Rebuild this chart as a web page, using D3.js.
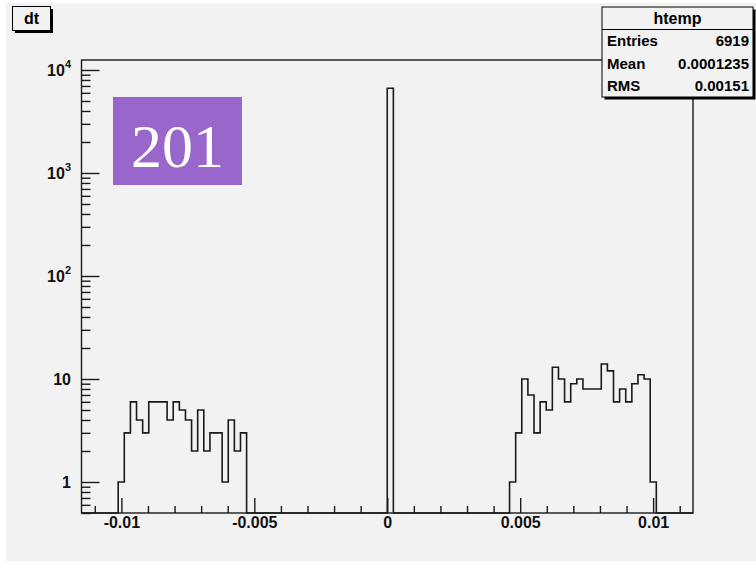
<!DOCTYPE html>
<html>
<head>
<meta charset="utf-8">
<script src="https://cdn.jsdelivr.net/npm/d3@7"></script>
<style>
  body { margin: 0; background: #ffffff; }
  svg { display: block; }
  text { font-family: "Liberation Sans", Arial, sans-serif; font-weight: bold; }
</style>
</head>
<body>
<div id="svganchor"></div>
<script>
// histogram definition (dt, 100 bins)
const nBins = 100;
const xMin = -0.0115, xMax = 0.0115;

// bin contents
const leftStart = 6;
const leftCounts = [1, 3, 6, 4, 3, 6, 6, 6, 4, 6, 5, 4, 2, 5, 2, 3, 3, 1, 4, 2, 3];
const peakBin = 50;
const peakCount = 6656;
const rightStart = 70;
const rightCounts = [1, 3, 10, 7, 3, 6, 5, 13, 10, 6, 9, 10, 8, 8, 8, 14, 12, 6, 8, 6, 9, 11, 10, 1];

// axis labels
const xMajorTicks = [-0.01, -0.005, 0, 0.005, 0.01];
const xTickLabels = ["-0.01", "-0.005", "0", "0.005", "0.01"];
const yDecades = [1, 10, 100, 1000, 10000];
const yTickLabels = [["1", ""], ["10", ""], ["10", "2"], ["10", "3"], ["10", "4"]];

// stats box
const statsTitle = "htemp";
const statsRows = [["Entries", "6919"], ["Mean", "0.0001235"], ["RMS", "0.00151"]];

const W = 756, H = 565;
const frame = { left: 81.5, right: 693, top: 60, bottom: 513 };

const svg = d3.select("#svganchor").append("svg")
  .attr("width", W).attr("height", H);

// canvas
svg.append("rect").attr("x", 6).attr("y", 3).attr("width", W - 6).attr("height", 558)
  .attr("fill", "#f2f2f2");

const x = d3.scaleLinear().domain([xMin, xMax]).range([frame.left, frame.right]);
const y = d3.scaleLog().domain([0.5, 12500]).range([frame.bottom, frame.top]);

// fill the counts
const counts = new Array(nBins).fill(0);
leftCounts.forEach((c, i) => counts[leftStart + i] = c);
rightCounts.forEach((c, i) => counts[rightStart + i] = c);
counts[peakBin] = peakCount;

const binW = (xMax - xMin) / nBins;
const pts = [];
counts.forEach((c, i) => {
  const x0 = xMin + i * binW, x1 = x0 + binW;
  const yy = c > 0 ? y(c) : frame.bottom;
  pts.push([x(x0), yy], [x(x1), yy]);
});

// frame
svg.append("rect")
  .attr("x", frame.left).attr("y", frame.top)
  .attr("width", frame.right - frame.left).attr("height", frame.bottom - frame.top)
  .attr("fill", "none").attr("stroke", "#1a1a1a").attr("stroke-width", 1.4);

// histogram outline
svg.append("path")
  .attr("d", d3.line()(pts))
  .attr("fill", "none")
  .attr("stroke", "#1a1a1a")
  .attr("stroke-width", 1.6);

// x axis: major + minor ticks going up into the frame
const xMinor = d3.range(-11, 12).map(d => d / 1000).filter(d => Math.abs(d * 1000 % 5) > 1e-9);
const xAxisMinor = d3.axisBottom(x).tickValues(xMinor).tickSize(-7).tickFormat("");
const xAxisMajor = d3.axisBottom(x).tickValues(xMajorTicks).tickSize(-15)
  .tickFormat((d, i) => xTickLabels[i]);

svg.append("g").attr("transform", `translate(0,${frame.bottom})`).call(xAxisMinor)
  .call(g => g.select(".domain").remove())
  .selectAll("line").attr("stroke", "#1a1a1a").attr("stroke-width", 1.4);

const gx = svg.append("g").attr("transform", `translate(0,${frame.bottom})`).call(xAxisMajor);
gx.select(".domain").remove();
gx.selectAll("line").attr("stroke", "#1a1a1a").attr("stroke-width", 1.4);
gx.selectAll("text")
  .attr("y", 4).attr("dy", "0.71em")
  .style("font-size", "16px").attr("fill", "#111");

// y axis: log ticks going right into the frame
const yMinor = [];
[0.1, 1, 10, 100, 1000].forEach(dec => {
  d3.range(2, 10).forEach(k => {
    const v = dec * k;
    if (v >= 0.5 && v <= 12500 && v !== 1 && v !== 10) yMinor.push(v);
  });
});

svg.append("g").attr("transform", `translate(${frame.left},0)`)
  .call(d3.axisLeft(y).tickValues(yMinor).tickSize(-9).tickFormat(""))
  .call(g => g.select(".domain").remove())
  .selectAll("line").attr("stroke", "#1a1a1a").attr("stroke-width", 1.4);

svg.append("g").attr("transform", `translate(${frame.left},0)`)
  .call(d3.axisLeft(y).tickValues(yDecades).tickSize(-18).tickFormat(""))
  .call(g => g.select(".domain").remove())
  .selectAll("line").attr("stroke", "#1a1a1a").attr("stroke-width", 1.4);

const yl = svg.append("g");
yDecades.forEach((v, i) => {
  const t = yl.append("text")
    .attr("x", 71).attr("y", y(v) + 6)
    .attr("text-anchor", "end")
    .style("font-size", "16px").attr("fill", "#111");
  t.append("tspan").text(yTickLabels[i][0]);
  if (yTickLabels[i][1]) {
    t.append("tspan").attr("dy", -8).style("font-size", "11px").text(yTickLabels[i][1]);
  }
});

// title box "dt"
svg.append("rect").attr("x", 15).attr("y", 9).attr("width", 38).attr("height", 24).attr("fill", "#000");
svg.append("rect").attr("x", 12.5).attr("y", 6.5).attr("width", 38).attr("height", 24)
  .attr("fill", "#f2f2f2").attr("stroke", "#000").attr("stroke-width", 1);
svg.append("text").attr("x", 31.5).attr("y", 24).attr("text-anchor", "middle")
  .style("font-size", "16px").text("dt");

// stats box
const sb = { x: 602, y: 7, w: 151, h: 90 };
const rowH = sb.h / 4;
svg.append("rect").attr("x", sb.x + 2.5).attr("y", sb.y + 2.5).attr("width", sb.w).attr("height", sb.h).attr("fill", "#000");
svg.append("rect").attr("x", sb.x).attr("y", sb.y).attr("width", sb.w).attr("height", sb.h)
  .attr("fill", "#f2f2f2").attr("stroke", "#000").attr("stroke-width", 1);
svg.append("line").attr("x1", sb.x).attr("x2", sb.x + sb.w)
  .attr("y1", sb.y + rowH).attr("y2", sb.y + rowH).attr("stroke", "#000");
svg.append("text").attr("x", sb.x + sb.w / 2).attr("y", sb.y + rowH / 2 + 5.5)
  .attr("text-anchor", "middle").style("font-size", "16px").text(statsTitle);
statsRows.forEach((r, i) => {
  const cy = sb.y + rowH * (i + 1.5) + 5.5;
  svg.append("text").attr("x", sb.x + 5).attr("y", cy).style("font-size", "15px").text(r[0]);
  svg.append("text").attr("x", sb.x + sb.w - 4).attr("y", cy).attr("text-anchor", "end")
    .style("font-size", "15px").text(r[1]);
});

// slide number overlay
svg.append("rect").attr("x", 113).attr("y", 97).attr("width", 129).attr("height", 88)
  .attr("fill", "#9966cc");
svg.append("text").attr("x", 177.5).attr("y", 167).attr("text-anchor", "middle")
  .style("font-family", "'Liberation Serif', 'Times New Roman', serif")
  .style("font-weight", "normal").style("font-size", "62px").attr("fill", "#fff")
  .text("201");
</script>
</body>
</html>
